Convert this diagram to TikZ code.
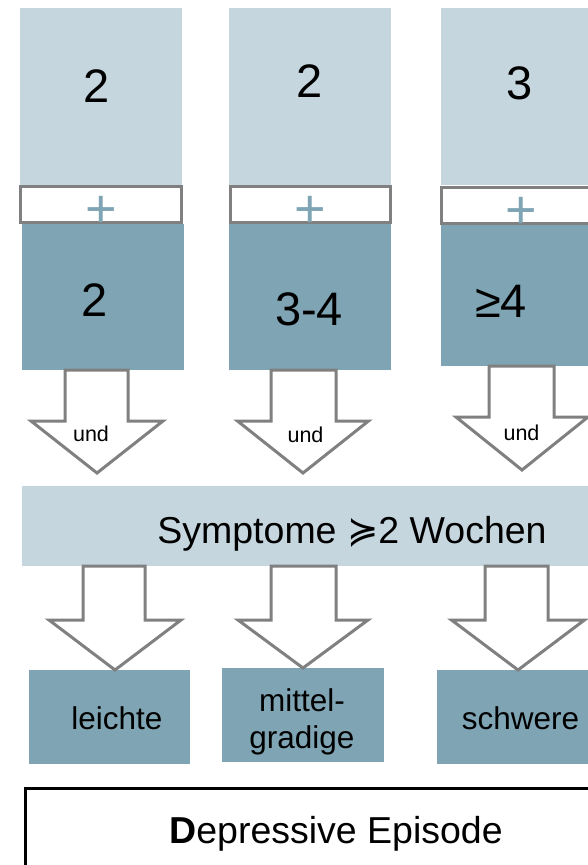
\documentclass[tikz,border=0pt]{standalone}
\usepackage{fontspec}
\setmainfont{Liberation Sans}
\newfontfamily\symbolfont{DejaVu Sans}
\usetikzlibrary{calc}

\definecolor{boxlight}{RGB}{197,214,222}
\definecolor{boxdark}{RGB}{127,165,181}
\definecolor{framegray}{RGB}{128,128,128}

% hollow block arrow pointing down: #1 top of shaft, #2 tip,
% #3 half shaft width, #4 half head width, #5 head length
\newcommand\blockdown[5]{%
  \draw[blockarrow] let \p1=(#1), \p2=(#2) in
    (\x1-#3,\y1) -- (\x1+#3,\y1) -- (\x1+#3,\y2+#5) -- (\x2+#4,\y2+#5)
    -- (\x2,\y2) -- (\x2-#4,\y2+#5) -- (\x1-#3,\y2+#5) -- cycle;}

\begin{document}
\begin{tikzpicture}[x=1pt,y=-1pt,
  every node/.style={inner sep=0pt, outer sep=0pt},
  panel/.style={anchor=north west, draw=none},
  lightbox/.style={panel, fill=boxlight},
  darkbox/.style={panel, fill=boxdark},
  plusbox/.style={anchor=north west, draw=framegray, line width=3pt, fill=white},
  framebox/.style={anchor=north west, draw=black, line width=3pt, fill=white},
  blockarrow/.style={draw=framegray, line width=3pt, fill=white, line join=miter},
  bignum/.style={anchor=base, font=\fontsize{47}{56}\selectfont},
  plussign/.style={anchor=base, text=boxdark, font=\fontsize{54}{60}\selectfont},
  andlabel/.style={anchor=base, font=\fontsize{21.5}{25}\selectfont},
  bandtext/.style={anchor=base, font=\fontsize{37.5}{44}\selectfont},
  gradetext/.style={font=\fontsize{31.5}{37}\selectfont, align=center}]

\useasboundingbox (0,0) rectangle (588,865);

% three columns of criteria counts
\node[lightbox, minimum width=162pt, minimum height=177pt] (L1) at (20,8) {};
\node[lightbox, minimum width=162pt, minimum height=177pt] (L2) at (229,8) {};
\node[lightbox, minimum width=170pt, minimum height=177pt] (L3) at (441,8) {};

\node[darkbox, minimum width=162pt, minimum height=146pt] (D1) at (22,224) {};
\node[darkbox, minimum width=162pt, minimum height=146pt] (D2) at (229,224) {};
\node[darkbox, minimum width=170pt, minimum height=141pt] (D3) at (441,225) {};

\node[plusbox, minimum width=161pt, minimum height=36pt] (P1) at (20.5,186.5) {};
\node[plusbox, minimum width=160pt, minimum height=36pt] (P2) at (230.5,186.5) {};
\node[plusbox, minimum width=170pt, minimum height=36pt] (P3) at (441.5,187.5) {};

\node[bignum] (n1a) at (97,102) {2};
\node[bignum] (n2a) at (310,97) {2};
\node[bignum] (n3a) at (520,99) {3};

\node[plussign] (s1) at (101,227) {+};
\node[plussign] (s2) at (310,227) {+};
\node[plussign] (s3) at (521,228) {+};

\node[bignum] (n1b) at (95,316) {2};
\node[bignum] (n2b) at (309,325) {3-4};
\node[bignum] (n3b) at (501,317) {≥4};

% duration band
\node[lightbox, minimum width=580pt, minimum height=80pt] (S) at (22,486) {};
\node[bandtext] (st) at (352,543) {Symptome {\symbolfont ≽}2 Wochen};

% arrows from the columns into the band
\coordinate (a1top) at (96.5,370);
\coordinate (a1tip) at (97,473);
\coordinate (a2top) at (303.5,370);
\coordinate (a2tip) at (303,473);
\coordinate (a3top) at (521.5,366);
\coordinate (a3tip) at (522,470);
\blockdown{a1top}{a1tip}{31.5pt}{66pt}{52pt}
\blockdown{a2top}{a2tip}{32.5pt}{65.5pt}{52pt}
\blockdown{a3top}{a3tip}{32.5pt}{66pt}{53pt}

\node[andlabel] (u1) at (91,441) {und};
\node[andlabel] (u2) at (305.5,442) {und};
\node[andlabel] (u3) at (521.5,440) {und};

% severity grades
\node[darkbox, minimum width=161pt, minimum height=94pt] (G1) at (29,670) {};
\node[darkbox, minimum width=162pt, minimum height=94pt] (G2) at (222,668) {};
\node[darkbox, minimum width=170pt, minimum height=94pt] (G3) at (437,670) {};

\node[gradetext, anchor=base] (g1) at (117,729) {leichte};
\node[gradetext] (g2) at (302,722) {mittel-\\gradige};
\node[gradetext, anchor=base] (g3) at (520.5,729) {schwere};

% arrows from the band to the grades
\coordinate (b1top) at (114,566);
\coordinate (b1tip) at (115,670);
\coordinate (b2top) at (303.5,566);
\coordinate (b2tip) at (303,668);
\coordinate (b3top) at (516.5,566);
\coordinate (b3tip) at (518,670);
\blockdown{b1top}{b1tip}{31pt}{66pt}{50pt}
\blockdown{b2top}{b2tip}{32.5pt}{65pt}{48pt}
\blockdown{b3top}{b3tip}{31.5pt}{66.5pt}{50pt}

% resulting diagnosis
\node[framebox, minimum width=580pt, minimum height=100pt] (E) at (25,788) {};
\node[bandtext] (et) at (336,843) {\textbf{D}epressive Episode};

\end{tikzpicture}
\end{document}
